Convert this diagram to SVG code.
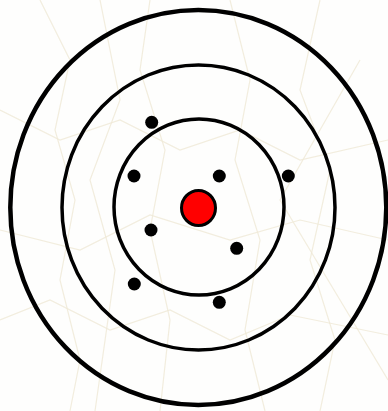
<svg xmlns="http://www.w3.org/2000/svg" width="388" height="411" viewBox="0 0 388 411">
<style>
.ring{fill:none;stroke:#000}
.dot{fill:#000}
.bg{fill:none;stroke:#efe8d6;stroke-width:1.2;opacity:0.8}
</style>
<rect width="388" height="411" fill="#fefefd"/>
<g id="background">
<path class="bg" d="M40 0 L70 60 L55 130 L75 200 L60 280 L80 360 L70 411"/>
<path class="bg" d="M150 0 L140 70 L165 150 L150 230 L170 320 L160 411"/>
<path class="bg" d="M230 0 L250 80 L235 160 L260 240 L245 330 L265 411"/>
<path class="bg" d="M320 0 L300 90 L330 170 L310 260 L335 340 L320 411"/>
<path class="bg" d="M0 110 L60 140 L120 120 L180 150 L240 130 L300 160 L388 140"/>
<path class="bg" d="M0 320 L50 300 L110 330 L170 310 L230 340 L290 315 L388 335"/>
<path class="bg" d="M100 0 L120 100 L90 180 L115 270 L95 411"/>
<path class="bg" d="M360 60 L280 200 L340 300 L388 380"/>
<path class="bg" d="M0 230 L80 250 L150 215 L230 240 L300 220 L388 240"/>
</g>
<g id="outer-ring"><ellipse class="ring" cx="198.3" cy="207.5" rx="188" ry="197.5" stroke-width="4.5"/></g>
<g id="middle-ring"><ellipse class="ring" cx="198.5" cy="207.5" rx="136.5" ry="142.5" stroke-width="3.5"/></g>
<g id="inner-ring"><ellipse class="ring" cx="199" cy="207" rx="85" ry="88" stroke-width="3.5"/></g>
<g id="center"><ellipse cx="198.5" cy="208" rx="17" ry="17.5" fill="#ff0000" stroke="#000" stroke-width="3"/></g>
<g id="dots">
<circle class="dot" cx="151.7" cy="122.3" r="6.5"/>
<circle class="dot" cx="134" cy="176" r="6.5"/>
<circle class="dot" cx="219.3" cy="176" r="6.5"/>
<circle class="dot" cx="288.3" cy="176" r="6.5"/>
<circle class="dot" cx="151" cy="230" r="6.5"/>
<circle class="dot" cx="236.7" cy="248.3" r="6.5"/>
<circle class="dot" cx="134.3" cy="284" r="6.5"/>
<circle class="dot" cx="219.3" cy="302.3" r="6.5"/>
</g>
<g id="connectors"/>
</svg>
